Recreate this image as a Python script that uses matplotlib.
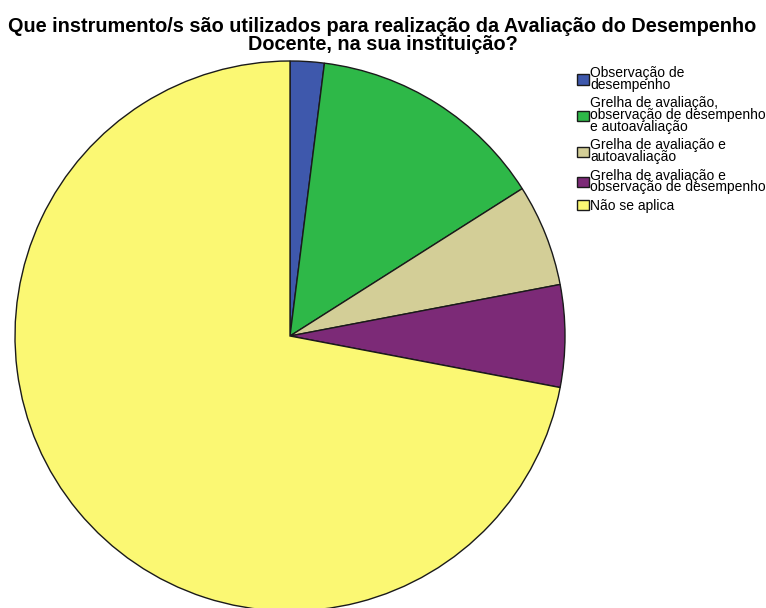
import matplotlib
matplotlib.use('Agg')
import matplotlib.pyplot as plt

plt.rcParams['font.family'] = ['Liberation Sans', 'DejaVu Sans']

labels = ['Observação de\ndesempenho',
          'Grelha de avaliação,\nobservação de desempenho\ne autoavaliação',
          'Grelha de avaliação e\nautoavaliação',
          'Grelha de avaliação e\nobservação de desempenho',
          'Não se aplica']
counts = [1, 7, 3, 3, 36]
colors = ['#3E58AC', '#2EB848', '#D3CE97', '#7C2A77', '#FBF873']

W, H = 766, 608
cx, cy, r = 290, 336, 275   # pie centre / radius in pixels

fig = plt.figure(figsize=(W / 100, H / 100), dpi=100)
ax = fig.add_axes([0, 0, 1, 1])

wedges, _ = ax.pie(counts, colors=colors, startangle=90, counterclock=False,
                   radius=1.0,
                   wedgeprops=dict(edgecolor='#1a1a1a', linewidth=1.0))

ax.set_xlim(-cx / r, (W - cx) / r)
ax.set_ylim(-(H - cy) / r, cy / r)
ax.set_aspect('auto')
ax.axis('off')

fig.text(0.5 * (8 + 757) / W, 1 - 17 / H,
         'Que instrumento/s são utilizados para realização da Avaliação do Desempenho\nDocente, na sua instituição?',
         ha='center', va='top', fontsize=14.3, fontweight='bold',
         linespacing=0.9)

leg = ax.legend(wedges, labels, loc='upper left',
                bbox_to_anchor=(577 / W, 1 - 66 / H), bbox_transform=fig.transFigure,
                frameon=False, fontsize=10, handlelength=0.85, handleheight=0.75,
                handletextpad=0.12, labelspacing=0.32, borderpad=0, borderaxespad=0)
for t in leg.get_texts():
    t.set_linespacing(0.8)

fig.savefig('out.png', dpi=100)
